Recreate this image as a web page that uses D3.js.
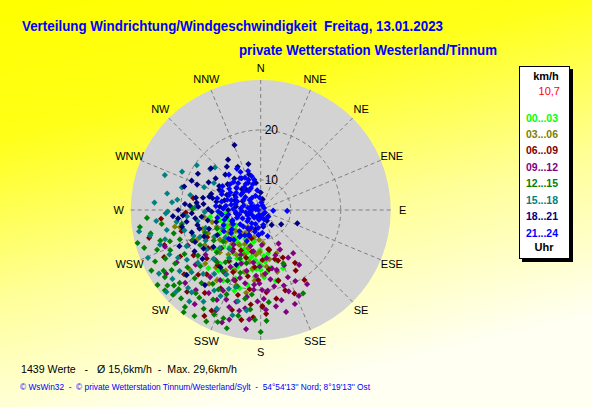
<!DOCTYPE html>
<html>
<head>
<meta charset="utf-8">
<script src="https://cdn.jsdelivr.net/npm/d3@7"></script>
<style>
  body { margin: 0; }
  text { font-family: Arial, 'Liberation Sans', sans-serif; }
</style>
</head>
<body>
<div class="chart"></div>
<script>
// data: [direction in degrees, speed in km/h], one list per 3-hour slot
const h00_03 = [[256,12.4],[250,11.8],[244,11.5],[237,11.3],[230,11.5],[222,11.6],[216,11.9],[210,12.1],[203,12.5],[197,12.8],[191,13.5],[186,14.1],[182,14.7],[179,15.2],[174,16.5],[170,15.8],[159,16.5],[175,14.4],[181,12],[188,16.1],[180,16],[195,20.2],[200,18.6],[205,17],[217,17.4],[214,15.5],[225,14.5],[233,14],[240,13.5],[247,13.2],[253,10.8],[264,12.3],[265,11],[271,17.6],[262,14.2],[228,16],[220,13.6],[212,14.2],[206,14.8],[199,15.2],[193,16.8],[185,17.5],[190,19.2],[198,21],[208,20],[184,12.6],[176,13.2],[170,12.8],[196,11.3],[208,10.6],[226,10.2],[238,9.8],[192,10.5],[202,16.2],[215,18.8],[222,19.6],[163,14.5],[168,18.5],[234,12.2],[219,12.6],[205,13.2],[193,14],[184,15.8],[177,17.5],[229,13],[211,16]];
const h03_06 = [[258,20.5],[263,15.6],[259,21.5],[263,15.4],[217,8.2],[234,14.1],[176,10.7],[174,15.4],[198,12],[205,11.5],[212,12.2],[220,12.8],[228,13.5],[240,14.8],[246,15.5],[252,16.2],[230,10.5],[222,10],[214,9.5],[206,9.8],[200,13.5],[208,14.2],[216,15],[224,15.8],[232,16.4],[238,17.2],[245,18],[192,14.6],[186,13],[181,12.4],[188,15.8],[195,16.8],[203,17.2],[210,18],[218,18.6],[226,19.4],[236,20],[242,12.6],[249,13.4],[256,14],[185,18.2],[178,17],[170,14],[165,16.8],[198,19.8],[190,20.8],[212,20.6],[225,12],[235,11.8],[244,10.6],[168,12],[160,13.2],[183,10],[194,9.6],[215,22],[230,22.5]];
const h06_09 = [[147,16.6],[148,20.5],[163,20.8],[166,18.6],[168,12.2],[179,23.4],[177,24.8],[186,23],[206,26.4],[256,27],[255,20.4],[280,17.7],[192,12.5],[255,6.5],[207,21.6],[236,20.2],[155,14.5],[161,14.7],[172,16],[176,20.5],[182,18],[188,20],[195,21.6],[200,19],[204,17.6],[212,16],[218,18],[224,22],[230,24],[240,22.6],[246,19],[250,24.5],[214,24],[222,26],[196,24.8],[190,26.3],[184,25.5],[170,22],[158,22],[179,23.2],[150,18],[164,14.2],[186,15.5],[197,14],[206,13],[215,13.6],[226,15],[234,17],[243,16],[198,10],[185,9],[210,8.6],[220,20.8],[228,18.5],[191,17.5],[178,14],[169,12],[166,18.5],[208,28],[244,25.5],[265,24],[268,19]];
const h09_12 = [[154,12.8],[145,17.4],[154,19.8],[161,21.2],[177,24],[192,24.6],[198,24.4],[172,18],[165,16.4],[169,15.9],[181,18.7],[179,20],[175,20.2],[185,20],[189,21.6],[201,19],[195,23],[201,23.2],[210,20.2],[217,20.8],[226,25],[249,24.5],[173,13.7],[181,15.3],[208,16.9],[189,23.9],[150,15],[158,18.5],[162,13.5],[167,22.5],[171,23.5],[176,16.8],[184,17.2],[188,14.6],[193,16.5],[197,18.2],[205,21.8],[212,23.6],[219,24.6],[204,26],[196,26.8],[186,26],[182,22.3],[178,21.8],[170,19.5],[163,19.8],[157,16],[148,21.5],[190,12.4],[196,11.5],[214,14],[222,17.5],[230,21],[238,23.8],[231,18.2],[218,12.8],[204,13.8],[209,18.6],[185,19],[166,25],[160,24],[156,22.8],[143,14.8],[152,11.6],[178,11],[200,15.4],[215,27],[206,24],[192,19],[187,28],[199,27.8],[244,20.2],[236,26.8]];
const h12_15 = [[255,29.5],[249,26.2],[230,29],[231,28],[229,27],[238,26.9],[236,25.5],[238,24.2],[228,25.8],[210,26.8],[204,26.9],[199,26.9],[208,24.3],[215,25.4],[218,25.1],[197,20],[177,26.2],[153,22.7],[157,15.6],[251,23.2],[250,21.2],[271,17.6],[244,27.5],[241,29],[234,29.5],[226,28.4],[222,27.8],[218,28.6],[212,29],[206,28.8],[196,28.6],[202,22.2],[213,21.6],[224,23],[232,22.6],[240,21.6],[246,23.8],[253,25],[258,26.5],[262,24],[246,18.8],[240,18],[234,19.5],[227,20.5],[220,17.6],[212,18.4],[205,19.6],[198,17.2],[190,22],[192,25.6],[201,28],[219,22.8],[226,26.8],[235,27.4],[243,25.4],[255,22],[260,20],[248,16],[237,15.2],[226,16.2],[214,16.6],[203,14.6],[195,15],[186,21],[183,26],[180,28.4],[186,24],[175,22.5],[229,23.8],[208,22],[217,29.6],[252,28.5],[266,26.8],[262,28.4],[247,13.5],[230,13.8]];
const h15_18 = [[305,19.6],[309,17],[286,20.4],[280,23],[269,22.6],[268,23],[257,26.7],[251,25.3],[244,24.3],[240,23.1],[244,20.5],[233,24.3],[223,25.3],[220,25.5],[205,23],[230,20.4],[234,17.4],[246,17.3],[273,17],[262,21],[255,19.8],[249,18.4],[241,16.6],[236,21.8],[228,22.6],[222,21.2],[216,19.8],[210,22.6],[202,21],[212,25.6],[218,27.2],[226,27.6],[232,26.4],[238,28],[247,28.5],[253,24],[258,23.2],[264,25],[274,25.3],[282,18.4],[292,16.2],[296,21.5],[290,24.4],[277,20.8],[265,18.8],[252,15.6],[240,14.5],[232,13],[224,17.6],[208,18.6],[198,20.2],[194,22.8],[204,25.6],[213,15.5],[219,14],[227,15.2],[260,16.8],[268,15.2],[285,14.6],[300,14.8],[244,12.4],[236,10.8],[195,25.8],[188,24.3],[229,29],[260,28.7],[275,21.8],[313,16.5]];
const h18_21 = [[338,18],[329,11.4],[308,12.4],[312,10.5],[325,8.9],[284.5,14.6],[283.7,13.9],[291.8,17.7],[280.8,17.2],[274.5,19.2],[273.5,18.2],[273,16.5],[280.7,13],[294,11.4],[274.6,12.2],[276.5,16.9],[276,15.5],[267.3,17.8],[262.8,17.2],[263.5,15.9],[264.2,20.6],[258,20.1],[261,19],[256.7,17],[268,13.8],[171,7.4],[143.7,7.7],[110,11.8],[228.7,23.7],[216.6,22.7],[300,13.6],[305,15],[315,14],[320,12.2],[335,10],[345,13.5],[300,10],[290,9.5],[285,11.5],[270,10.5],[265,12],[255,13.2],[250,15],[245,16.5],[240,14],[252,18.5],[258,11],[248,10.2],[262,9],[278,9],[296,8],[318,9.6],[332,13.8],[342,11.5],[350,9.5],[0,7.5],[10,6.2],[288,14.4],[298,15.8],[293,19],[287,20],[270,20.5],[266,21.6],[238,19.6],[232,16],[226,12.5],[218,10.5],[205,9.5],[195,8],[150,6.5],[125,9],[130,6],[215,18],[204,16],[246,21.8],[230,19.2],[322,15],[310,17],[300,18.5],[282,15.8],[271,14.5],[259,14.8],[253,16.8],[244,18.6],[236,17.8],[266,19.6],[296,13.2],[327,16]];
const h21_24 = [[270,6],[275,8],[280,10],[265,9],[260,7],[285,7.5],[290,9],[295,11],[300,8],[305,10],[310,12],[315,9],[320,11],[325,7],[330,10],[332,12.6],[338,10.5],[343,9.4],[350,8],[355,6.5],[5,5.5],[20,5],[93,6.5],[92,9.3],[250,10],[255,11.5],[245,8],[240,6],[235,9],[230,7.5],[225,10],[220,6],[215,8.5],[210,5.5],[200,7],[190,6],[180,5.5],[170,7],[160,6],[150,5],[272,11.5],[282,12],[292,6],[302,13],[312,7],[318,13.5],[328,8.5],[262,10.5],[248,12],[278,5],[298,5.5],[322,5],[340,7],[345,11],[268,12.5],[287,11],[308,9],[232,11.5],[222,12],[212,10],[205,9.6],[195,8.5],[185,9],[120,5],[135,6],[60,4.8],[300,11],[285,13],[275,13],[260,12.8],[240,12.5],[330,13.5],[267,7.8],[283,9.2],[297,9.6],[313,10.6],[327,11.6],[258,8.4],[248,6.8],[236,11],[226,8.8],[214,7.2],[204,10.8],[198,5],[188,7.6],[176,8.6],[165,9.4],[280,6.6],[292,12.4],[306,6.4],[336,8.8],[348,10.2],[272,9.5],[277,11],[263,11.8],[288,10.2],[296,12.6],[304,11.6],[310,8],[316,11.8],[324,9.6],[334,11.2],[342,12.2],[262,6],[252,9],[243,10.2],[234,7],[228,12.6],[218,10.8],[208,8],[286,5.5],[270,4.5]];

const slotLabels = ['00...03', '03...06', '06...09', '09...12', '12...15', '15...18', '18...21', '21...24'];
const slotColors = ['#00ff00', '#808000', '#800000', '#800080', '#008000', '#008080', '#000080', '#0000ff'];
const slots = [h00_03, h03_06, h06_09, h09_12, h12_15, h15_18, h18_21, h21_24];

const dirLabels = ['N', 'NNE', 'NE', 'ENE', 'E', 'ESE', 'SE', 'SSE', 'S', 'SSW', 'SW', 'WSW', 'W', 'WNW', 'NW', 'NNW'];
const ringValues = [10, 20];
const centerValue = '10,7';
const stats = { count: 1439, mean: '15,6', max: '29,6' };

const width = 592;
const height = 407;
const cx = 260.7, cy = 210, outerR = 130;

const svg = d3.select('.chart')
  .append('svg')
  .attr('width', width)
  .attr('height', height);

const defs = svg.append('defs');
const grad = defs.append('linearGradient')
  .attr('id', 'bg')
  .attr('x1', 0).attr('y1', 0).attr('x2', 0.35).attr('y2', 1);
grad.append('stop').attr('offset', 0).attr('stop-color', '#ffff00');
grad.append('stop').attr('offset', 0.3).attr('stop-color', '#ffff18');
grad.append('stop').attr('offset', 0.65).attr('stop-color', '#ffff98');
grad.append('stop').attr('offset', 1).attr('stop-color', '#fffff2');

svg.append('rect')
  .attr('width', width)
  .attr('height', height)
  .attr('fill', 'url(#bg)');

// titles
svg.append('text')
  .attr('x', 22).attr('y', 31)
  .attr('textLength', 421).attr('lengthAdjust', 'spacingAndGlyphs')
  .style('font-size', '15px').style('font-weight', 'bold')
  .style('white-space', 'pre')
  .attr('fill', '#0000ff')
  .text('Verteilung Windrichtung/Windgeschwindigkeit  Freitag, 13.01.2023');

svg.append('text')
  .attr('x', 239).attr('y', 55)
  .attr('textLength', 258).attr('lengthAdjust', 'spacingAndGlyphs')
  .style('font-size', '15px').style('font-weight', 'bold')
  .attr('fill', '#0000ff')
  .text('private Wetterstation Westerland/Tinnum');

// polar plot
const rScale = d3.scaleLinear()
  .domain([4, 30])
  .range([0, outerR]);

const aScale = d3.scaleLinear()
  .domain([0, 360])
  .range([0, 2 * Math.PI]);

const plot = svg.append('g')
  .attr('transform', `translate(${cx}, ${cy})`);

plot.append('circle')
  .attr('r', outerR)
  .attr('fill', '#d3d3d3');

plot.selectAll('.spoke')
  .data(dirLabels)
  .join('line')
  .attr('class', 'spoke')
  .attr('x1', 0).attr('y1', 0)
  .attr('x2', (d, i) => d3.pointRadial(aScale(i * 22.5), outerR)[0])
  .attr('y2', (d, i) => d3.pointRadial(aScale(i * 22.5), outerR)[1])
  .attr('stroke', '#808080')
  .attr('stroke-dasharray', '4,3');

plot.selectAll('.ring')
  .data(ringValues)
  .join('circle')
  .attr('class', 'ring')
  .attr('r', d => rScale(d))
  .attr('fill', 'none')
  .attr('stroke', '#808080')
  .attr('stroke-dasharray', '4,3');

plot.selectAll('.ringlabel')
  .data(ringValues)
  .join('text')
  .attr('class', 'ringlabel')
  .attr('x', 4)
  .attr('y', d => -rScale(d))
  .attr('dy', '0.35em')
  .style('font-size', '12px')
  .text(d => d);

plot.selectAll('.dirlabel')
  .data(dirLabels)
  .join('text')
  .attr('class', 'dirlabel')
  .attr('x', (d, i) => d3.pointRadial(aScale(i * 22.5), 142)[0])
  .attr('y', (d, i) => d3.pointRadial(aScale(i * 22.5), 142)[1])
  .attr('dy', '0.35em')
  .attr('text-anchor', 'middle')
  .style('font-size', '11px')
  .text(d => d);

const marker = d3.symbol(d3.symbolSquare, 19);

slots.forEach((pts, k) => {
  plot.append('g')
    .selectAll('path')
    .data(pts)
    .join('path')
    .attr('d', marker)
    .attr('transform', d => {
      const p = d3.pointRadial(aScale(d[0]), rScale(d[1]));
      return `translate(${p[0]}, ${p[1]}) rotate(45)`;
    })
    .attr('fill', slotColors[k]);
});

// legend
const legend = svg.append('g');
legend.append('rect')
  .attr('x', 522).attr('y', 69)
  .attr('width', 51).attr('height', 193)
  .attr('fill', '#000');
legend.append('rect')
  .attr('x', 519.5).attr('y', 66.5)
  .attr('width', 50).attr('height', 192)
  .attr('fill', '#fff')
  .attr('stroke', '#000');

legend.append('text')
  .attr('x', 546).attr('y', 76).attr('dy', '0.35em')
  .attr('text-anchor', 'middle')
  .style('font-size', '11px').style('font-weight', 'bold')
  .text('km/h');
legend.append('text')
  .attr('x', 560).attr('y', 91).attr('dy', '0.35em')
  .attr('text-anchor', 'end')
  .style('font-size', '11px')
  .attr('fill', '#ff0000')
  .text(centerValue);

legend.selectAll('.slot')
  .data(slotLabels)
  .join('text')
  .attr('class', 'slot')
  .attr('x', 526)
  .attr('y', (d, i) => 117.7 + i * 16.43)
  .attr('dy', '0.35em')
  .attr('textLength', 32).attr('lengthAdjust', 'spacingAndGlyphs')
  .style('font-size', '11px').style('font-weight', 'bold')
  .attr('fill', (d, i) => slotColors[i])
  .text(d => d);

legend.append('text')
  .attr('x', 544).attr('y', 247).attr('dy', '0.35em')
  .attr('text-anchor', 'middle')
  .style('font-size', '11px').style('font-weight', 'bold')
  .text('Uhr');

// footer
svg.append('text')
  .attr('x', 21).attr('y', 369).attr('dy', '0.35em')
  .attr('textLength', 216).attr('lengthAdjust', 'spacingAndGlyphs')
  .style('font-size', '11px')
  .style('white-space', 'pre')
  .text(`${stats.count} Werte   -   Ø ${stats.mean}km/h  -  Max. ${stats.max}km/h`);

svg.append('text')
  .attr('x', 20).attr('y', 387).attr('dy', '0.35em')
  .attr('textLength', 350).attr('lengthAdjust', 'spacingAndGlyphs')
  .style('font-size', '9px')
  .style('white-space', 'pre')
  .attr('fill', '#0000ff')
  .text("© WsWin32  -  © private Wetterstation Tinnum/Westerland/Sylt  -  54°54'13'' Nord; 8°19'13'' Ost");
</script>
</body>
</html>
